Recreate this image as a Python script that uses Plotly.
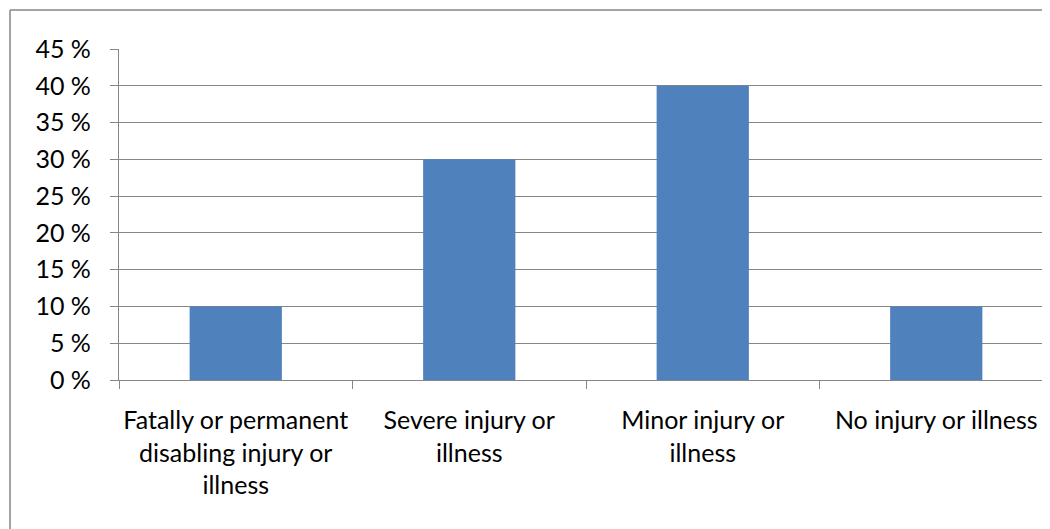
import plotly.graph_objects as go

categories = ["Fatally or permanent<br>disabling injury or<br>illness",
              "Severe injury or<br>illness",
              "Minor injury or<br>illness",
              "No injury or illness"]
shares = [10, 30, 40, 10]
y_ticks = [0, 5, 10, 15, 20, 25, 30, 35, 40, 45]
y_labels = [f"{v} %" for v in y_ticks]

BLUE = "#4F81BD"
GRID = "#868686"

fig = go.Figure(go.Bar(x=categories, y=shares, marker_color=BLUE,
                       marker_line_width=0, width=0.395))

# page body has an 8px margin, so the figure is laid out 8px up/left of the picture
fig.update_layout(
    width=1050, height=529,
    margin=dict(l=111, r=5, t=41, b=157),
    paper_bgcolor="white", plot_bgcolor="white",
    font=dict(family="Lato", size=25, color="#000000"),
    showlegend=False,
    shapes=[
        dict(type="line", xref="paper", yref="paper", x0=-0.1167, x1=-0.1167, y0=1.118, y1=-0.6,
             line=dict(color=GRID, width=1.5)),
        dict(type="line", xref="paper", yref="paper", x0=-0.1167, x1=1.1, y0=1.118, y1=1.118,
             line=dict(color=GRID, width=1.5)),
    ],
)
fig.update_yaxes(range=[0, 45], tickvals=y_ticks, ticktext=y_labels, automargin=False,
                 showgrid=True, gridcolor=GRID, gridwidth=1.3,
                 showline=True, linecolor=GRID, linewidth=1.3,
                 ticks="outside", ticklen=8, tickcolor=GRID, ticklabelstandoff=14,
                 zeroline=False)
fig.update_xaxes(range=[-0.5, 3.5], tickson="boundaries", ticks="outside", ticklen=8,
                 tickangle=0, automargin=False, ticklabelstandoff=18,
                 tickcolor=GRID, showline=True, linecolor=GRID, linewidth=1.3,
                 showgrid=False)

fig.write_html("out.html")
